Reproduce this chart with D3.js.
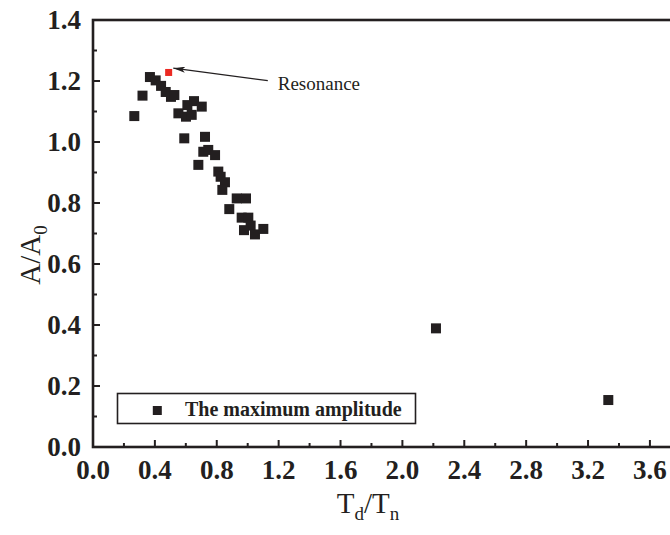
<!DOCTYPE html>
<html>
<head>
<meta charset="utf-8">
<script src="https://cdn.jsdelivr.net/npm/d3@7"></script>
<style>
  body { margin: 0; background: #fff; }
  svg text { font-family: "Liberation Serif", "Times New Roman", serif; fill: #231f20; }
</style>
</head>
<body>
<div id="chart"></div>
<script>
// measured points, T_d/T_n vs A/A0
const ratioT = [0.267, 0.320, 0.368, 0.405, 0.440, 0.470, 0.504, 0.526,
  0.552, 0.601, 0.610, 0.638, 0.653, 0.703, 0.590, 0.724, 0.713, 0.745,
  0.789, 0.681, 0.810, 0.825, 0.853, 0.836, 0.929, 0.989, 0.881, 0.961,
  1.004, 1.019, 0.976, 1.047, 1.101, 2.217, 3.331];
const ampRatio = [1.085, 1.152, 1.213, 1.202, 1.184, 1.164, 1.148, 1.154,
  1.094, 1.083, 1.121, 1.089, 1.134, 1.116, 1.012, 1.017, 0.968, 0.974,
  0.957, 0.925, 0.903, 0.886, 0.868, 0.843, 0.815, 0.815, 0.780, 0.752,
  0.752, 0.726, 0.711, 0.697, 0.715, 0.389, 0.154];
const resonance = { x: 0.489, y: 1.228 };
const arrowFrom = [1.13, 1.201];
const arrowTo = [0.519, 1.242];
const noteAt = [1.194, 1.170];

const xTicks = [0.0, 0.4, 0.8, 1.2, 1.6, 2.0, 2.4, 2.8, 3.2, 3.6];
const yTicks = [0.0, 0.2, 0.4, 0.6, 0.8, 1.0, 1.2, 1.4];

const width = 670, height = 535;
const svg = d3.select("#chart").append("svg")
  .attr("width", width).attr("height", height);

const x = d3.scaleLinear().domain([0, 3.8]).range([93, 93 + 3.8 * 154.7]);
const y = d3.scaleLinear().domain([0, 1.4]).range([447, 20]);

const ink = "#231f20";

// points
const pts = ratioT.map((d, i) => ({ x: d, y: ampRatio[i] }));
const s = 10;
svg.append("g").selectAll("rect").data(pts).enter().append("rect")
  .attr("x", d => x(d.x) - s / 2)
  .attr("y", d => y(d.y) - s / 2)
  .attr("width", s).attr("height", s)
  .attr("fill", ink);

svg.append("rect")
  .attr("x", x(resonance.x) - 3.5).attr("y", y(resonance.y) - 3.5)
  .attr("width", 7).attr("height", 7)
  .attr("fill", "#ec2a22");

// frame
svg.append("rect")
  .attr("x", x(0)).attr("y", y(1.4))
  .attr("width", x(3.8) - x(0)).attr("height", y(0) - y(1.4))
  .attr("fill", "none").attr("stroke", ink).attr("stroke-width", 2.6);

// x axis ticks (inward)
const xMinor = d3.range(0.2, 3.8, 0.4);
const gx = svg.append("g");
gx.selectAll("line.maj").data(xTicks).enter().append("line")
  .attr("x1", d => x(d)).attr("x2", d => x(d))
  .attr("y1", y(0)).attr("y2", y(0) - 7)
  .attr("stroke", ink).attr("stroke-width", 2);
gx.selectAll("line.min").data(xMinor).enter().append("line")
  .attr("x1", d => x(d)).attr("x2", d => x(d))
  .attr("y1", y(0)).attr("y2", y(0) - 4)
  .attr("stroke", ink).attr("stroke-width", 2);
gx.selectAll("text").data(xTicks).enter().append("text")
  .attr("x", d => x(d)).attr("y", 479)
  .attr("text-anchor", "middle")
  .attr("font-size", 27).attr("font-weight", "bold")
  .text(d => d.toFixed(1));

// y axis ticks (inward)
const yMinor = d3.range(0.1, 1.4, 0.2);
const gy = svg.append("g");
gy.selectAll("line.maj").data(yTicks).enter().append("line")
  .attr("x1", x(0)).attr("x2", x(0) + 7)
  .attr("y1", d => y(d)).attr("y2", d => y(d))
  .attr("stroke", ink).attr("stroke-width", 2);
gy.selectAll("line.min").data(yMinor).enter().append("line")
  .attr("x1", x(0)).attr("x2", x(0) + 4)
  .attr("y1", d => y(d)).attr("y2", d => y(d))
  .attr("stroke", ink).attr("stroke-width", 2);
gy.selectAll("text").data(yTicks).enter().append("text")
  .attr("x", 81).attr("y", d => y(d) + 8.5)
  .attr("text-anchor", "end")
  .attr("font-size", 27).attr("font-weight", "bold")
  .text(d => d.toFixed(1));

// axis titles
const xt = svg.append("text")
  .attr("x", 368).attr("y", 513)
  .attr("text-anchor", "middle").attr("font-size", 29);
xt.append("tspan").text("T");
xt.append("tspan").attr("font-size", 19).attr("dy", 7).text("d");
xt.append("tspan").attr("dy", -7).text("/T");
xt.append("tspan").attr("font-size", 19).attr("dy", 7).text("n");

const yt = svg.append("text")
  .attr("transform", "translate(40,255) rotate(-90)")
  .attr("text-anchor", "middle").attr("font-size", 29);
yt.append("tspan").text("A/A");
yt.append("tspan").attr("font-size", 19).attr("dy", 7).text("0");

// annotation
svg.append("defs").append("marker")
  .attr("id", "ah").attr("viewBox", "0 0 12 6")
  .attr("refX", 12).attr("refY", 3)
  .attr("markerWidth", 12).attr("markerHeight", 6)
  .attr("markerUnits", "userSpaceOnUse")
  .attr("orient", "auto")
  .append("path").attr("d", "M0,0L12,3L0,6L3,3Z").attr("fill", ink);

svg.append("line")
  .attr("x1", x(arrowFrom[0])).attr("y1", y(arrowFrom[1]))
  .attr("x2", x(arrowTo[0])).attr("y2", y(arrowTo[1]))
  .attr("stroke", ink).attr("stroke-width", 1.3)
  .attr("marker-end", "url(#ah)");

svg.append("text")
  .attr("x", x(noteAt[0])).attr("y", y(noteAt[1]))
  .attr("font-size", 19)
  .text("Resonance");

// legend
const lg = svg.append("g");
lg.append("rect")
  .attr("x", 117.5).attr("y", 393.5).attr("width", 298).attr("height", 30)
  .attr("fill", "#fff").attr("stroke", ink).attr("stroke-width", 1.6);
lg.append("rect")
  .attr("x", 157.3 - 4.5).attr("y", 410.5 - 4.5).attr("width", 9).attr("height", 9)
  .attr("fill", ink);
lg.append("text")
  .attr("x", 185).attr("y", 416)
  .attr("font-size", 20).attr("font-weight", "bold")
  .text("The maximum amplitude");
</script>
</body>
</html>
